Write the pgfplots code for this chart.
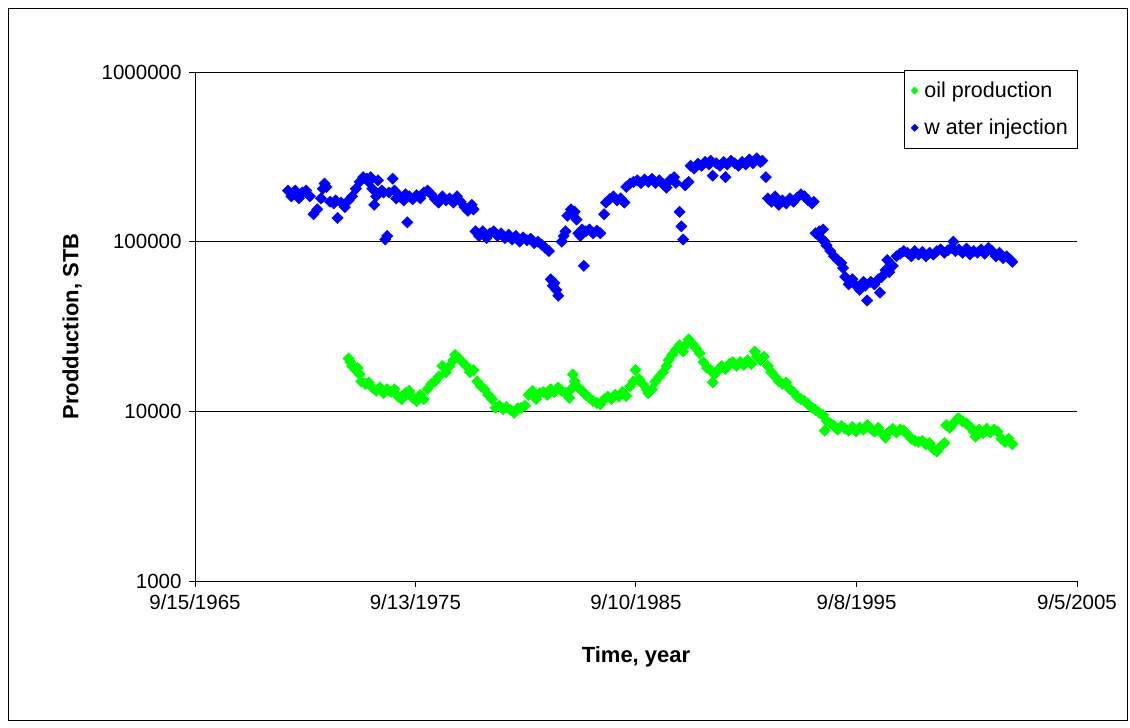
\documentclass[border=0pt]{standalone}
\usepackage{fontspec}
\setmainfont{Liberation Sans}
\usepackage{pgfplots}
\usepackage{pgfplotstable}
\pgfplotsset{compat=1.18}

\pgfplotstableread{
year value
1972.67 20500
1972.75 19500
1972.83 18500
1973.00 17500
1973.08 18000
1973.17 16500
1973.25 15000
1973.42 14500
1973.58 14800
1973.75 13800
1973.92 13200
1974.08 13800
1974.25 12800
1974.42 13500
1974.58 13000
1974.75 13500
1974.92 12200
1975.08 11800
1975.25 12800
1975.42 13200
1975.58 12000
1975.75 11500
1975.92 12500
1976.08 11800
1976.25 13500
1976.42 14500
1976.58 15000
1976.75 16000
1976.92 18500
1977.08 17000
1977.25 18500
1977.42 20000
1977.50 21500
1977.67 20500
1977.83 19500
1978.00 18500
1978.17 17000
1978.33 17500
1978.50 15000
1978.67 14000
1978.83 13500
1979.00 12500
1979.17 11800
1979.33 10500
1979.50 10800
1979.67 10300
1979.83 10600
1980.00 10200
1980.17 9800
1980.33 10400
1980.50 10500
1980.67 10800
1980.83 12500
1981.00 13200
1981.17 11800
1981.33 12800
1981.50 13000
1981.67 12500
1981.83 13500
1982.00 13000
1982.17 13800
1982.33 13200
1982.50 12800
1982.67 12000
1982.75 13500
1982.83 16500
1982.92 15000
1983.08 13800
1983.25 13200
1983.42 12500
1983.58 12000
1983.75 11500
1983.92 11200
1984.08 11000
1984.25 11800
1984.42 12200
1984.58 11800
1984.75 12500
1984.92 12200
1985.08 13000
1985.25 12300
1985.42 14000
1985.58 15000
1985.67 17500
1985.83 15500
1986.00 14500
1986.17 13500
1986.25 12800
1986.42 13500
1986.58 15000
1986.75 16000
1986.92 17000
1987.08 18500
1987.17 20000
1987.33 21500
1987.50 23000
1987.67 24500
1987.83 22500
1988.00 25000
1988.08 26500
1988.25 25000
1988.42 23500
1988.58 22000
1988.75 19500
1988.92 18000
1989.08 17500
1989.17 14800
1989.25 16500
1989.42 17500
1989.58 18500
1989.75 17800
1989.92 19000
1990.08 19500
1990.25 18500
1990.42 19500
1990.58 18800
1990.75 20000
1990.92 19000
1991.08 22500
1991.17 21000
1991.33 20000
1991.50 21000
1991.67 18500
1991.83 17000
1992.00 16000
1992.17 15000
1992.33 14500
1992.50 14800
1992.67 13500
1992.83 13000
1993.00 12200
1993.17 11800
1993.33 11500
1993.50 11000
1993.67 10500
1993.83 10200
1994.00 9800
1994.17 9500
1994.25 7700
1994.33 8800
1994.50 8500
1994.67 8200
1994.83 7800
1995.00 8200
1995.17 7900
1995.33 7700
1995.50 8100
1995.67 7600
1995.83 8000
1996.00 7800
1996.17 8300
1996.33 7900
1996.50 7600
1996.67 8000
1996.83 7400
1997.00 7000
1997.17 7600
1997.33 7900
1997.50 7500
1997.67 7800
1997.83 7700
1998.00 7300
1998.17 6900
1998.33 6700
1998.50 6600
1998.67 6700
1998.83 6400
1999.00 6500
1999.17 6000
1999.33 5800
1999.50 6200
1999.67 6500
1999.75 8300
1999.92 8000
2000.08 8500
2000.25 9000
2000.33 9100
2000.50 8700
2000.67 8500
2000.83 8100
2001.00 7600
2001.08 7100
2001.25 7800
2001.42 7400
2001.58 7900
2001.75 7500
2001.92 7800
2002.08 7600
2002.25 6900
2002.42 6600
2002.58 6900
2002.75 6400
}\oiltable

\pgfplotstableread{
year value
1969.92 200000
1970.08 185000
1970.25 200000
1970.42 180000
1970.58 195000
1970.75 200000
1970.92 185000
1971.08 145000
1971.25 155000
1971.42 180000
1971.50 205000
1971.58 220000
1971.67 210000
1971.83 172000
1972.00 168000
1972.08 175000
1972.17 138000
1972.33 170000
1972.50 160000
1972.67 175000
1972.83 185000
1973.00 205000
1973.17 225000
1973.33 240000
1973.50 235000
1973.58 225000
1973.67 240000
1973.75 205000
1973.83 165000
1973.92 185000
1974.00 230000
1974.17 200000
1974.25 195000
1974.33 103000
1974.42 108000
1974.50 195000
1974.67 235000
1974.75 200000
1974.83 180000
1975.00 185000
1975.17 175000
1975.25 190000
1975.33 130000
1975.42 185000
1975.58 178000
1975.75 188000
1975.92 180000
1976.08 195000
1976.25 200000
1976.42 190000
1976.58 178000
1976.75 170000
1976.92 185000
1977.08 175000
1977.25 180000
1977.42 170000
1977.58 185000
1977.75 172000
1977.92 160000
1978.08 152000
1978.25 165000
1978.33 155000
1978.42 115000
1978.58 108000
1978.75 115000
1978.92 105000
1979.08 112000
1979.25 115000
1979.42 108000
1979.58 112000
1979.75 105000
1979.92 110000
1980.08 103000
1980.25 108000
1980.42 100000
1980.58 106000
1980.75 102000
1980.92 104000
1981.08 98000
1981.25 100000
1981.42 96000
1981.58 92000
1981.75 88000
1981.83 60000
1981.92 55000
1982.00 57000
1982.08 52000
1982.17 48000
1982.33 100000
1982.42 108000
1982.50 115000
1982.58 142000
1982.75 155000
1982.83 145000
1982.92 150000
1983.00 135000
1983.08 112000
1983.17 108000
1983.25 118000
1983.33 72000
1983.42 115000
1983.58 118000
1983.75 112000
1983.92 116000
1984.08 112000
1984.25 145000
1984.33 170000
1984.50 178000
1984.67 185000
1984.83 175000
1985.00 180000
1985.17 170000
1985.25 210000
1985.42 220000
1985.58 225000
1985.75 230000
1985.92 222000
1986.08 232000
1986.25 225000
1986.42 235000
1986.58 222000
1986.75 230000
1986.92 218000
1987.08 208000
1987.25 232000
1987.42 240000
1987.50 222000
1987.67 150000
1987.75 123000
1987.83 103000
1987.92 215000
1988.08 225000
1988.17 280000
1988.33 270000
1988.50 288000
1988.67 280000
1988.83 295000
1989.00 285000
1989.08 300000
1989.17 245000
1989.33 290000
1989.50 280000
1989.67 295000
1989.75 240000
1989.83 285000
1990.00 300000
1990.17 290000
1990.33 280000
1990.50 295000
1990.67 285000
1990.83 305000
1991.00 290000
1991.17 310000
1991.33 295000
1991.42 300000
1991.58 240000
1991.67 180000
1991.83 172000
1992.00 185000
1992.17 165000
1992.33 175000
1992.50 168000
1992.67 180000
1992.83 172000
1993.00 182000
1993.17 190000
1993.33 185000
1993.50 175000
1993.67 168000
1993.75 172000
1993.83 112000
1994.00 115000
1994.08 105000
1994.17 118000
1994.25 100000
1994.33 95000
1994.50 88000
1994.67 82000
1994.83 78000
1995.00 75000
1995.08 70000
1995.17 62000
1995.33 56000
1995.50 60000
1995.67 55000
1995.83 52000
1996.00 58000
1996.08 55000
1996.17 45000
1996.33 58000
1996.50 56000
1996.67 60000
1996.75 50000
1996.83 62000
1997.00 68000
1997.08 78000
1997.17 66000
1997.33 72000
1997.50 82000
1997.67 85000
1997.83 88000
1998.00 86000
1998.17 82000
1998.33 88000
1998.50 84000
1998.67 87000
1998.83 82000
1999.00 86000
1999.17 84000
1999.33 88000
1999.50 90000
1999.67 86000
1999.83 89000
2000.00 92000
2000.08 100000
2000.17 88000
2000.33 90000
2000.50 86000
2000.67 91000
2000.83 84000
2001.00 88000
2001.17 86000
2001.33 90000
2001.50 85000
2001.67 92000
2001.83 88000
2002.00 82000
2002.17 86000
2002.33 80000
2002.50 82000
2002.67 78000
2002.75 76000
}\watertable

\begin{document}
\begin{tikzpicture}
\useasboundingbox (0,0) rectangle (1130pt,728pt);
\draw[black, line width=0.8pt] (8pt,8pt) rectangle (1127pt,720pt);
\begin{axis}[
  at={(195pt,147pt)}, anchor=south west,
  scale only axis, width=882pt, height=509pt,
  ymode=log,
  xmin=1965.71, xmax=2005.68,
  ymin=1000, ymax=1000000,
  axis x line*=bottom, axis y line*=left,
  axis line style={black, line width=0.8pt},
  xtick={1965.71,1975.70,1985.69,1995.69,2005.68},
  xticklabels={9/15/1965,9/13/1975,9/10/1985,9/8/1995,9/5/2005},
  ytick={1000,10000,100000,1000000},
  yticklabels={1000,10000,100000,1000000},
  yminorticks=false, xminorticks=false,
  tick align=outside, major tick length=6pt,
  tick style={black, line width=0.8pt},
  ymajorgrids, grid style={black, line width=0.8pt},
  tick label style={font=\fontsize{20.5}{24}\selectfont},
  xticklabel style={yshift=-4pt},
  yticklabel style={xshift=-4pt},
  xlabel={\bfseries Time, year},
  ylabel={\bfseries Prodduction, STB},
  label style={font=\fontsize{22}{26}\selectfont},
  xlabel style={yshift=-30pt},
  ylabel style={yshift=13pt},
  legend style={at={(1,1.004)}, anchor=north east, draw=black, fill=white,
    font=\fontsize{21.5}{26}\selectfont, row sep=16pt, inner xsep=7pt, inner ysep=10pt,
    legend cell align=left},
  legend image post style={mark size=2.6pt},
  clip=false,
]
\addplot[only marks, mark=square*, mark size=4pt, color={rgb,1:red,0;green,1;blue,0},
  mark options={rotate=45}] table[x=year,y=value] {\oiltable};
\addlegendentry{\hspace{4pt}oil production}
\addplot[only marks, mark=square*, mark size=4pt, color={rgb,1:red,0;green,0;blue,1},
  mark options={rotate=45}] table[x=year,y=value] {\watertable};
\addlegendentry{\hspace{4pt}w ater injection}
\end{axis}
\end{tikzpicture}
\end{document}
